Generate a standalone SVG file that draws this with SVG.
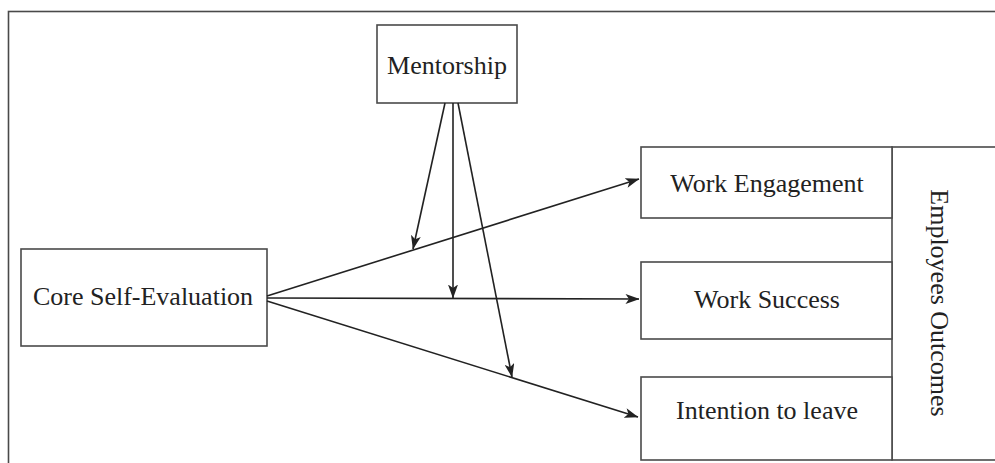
<svg xmlns="http://www.w3.org/2000/svg" width="995" height="463" viewBox="0 0 995 463">
<style>
.box{fill:#fff;stroke:#4a4a4a;stroke-width:1.6}
.frame{fill:none;stroke:#4a4a4a;stroke-width:1.6}
.lbl{font-family:"Liberation Serif","Times New Roman",serif;font-size:26px;fill:#222;text-anchor:middle}
.conn{stroke:#222;stroke-width:1.6;fill:none;marker-end:url(#ah)}
</style>
<defs>
<marker id="ah" viewBox="0 0 14 10" refX="13.5" refY="5" markerWidth="14" markerHeight="10" markerUnits="userSpaceOnUse" orient="auto">
<path d="M0,0 L14,5 L0,10 L3.5,5 z" fill="#222"/>
</marker>
</defs>
<rect class="frame" x="8.5" y="11.5" width="1000" height="500"/>
<g id="mentorship">
<rect class="box" x="377" y="25" width="140" height="78"/>
<text class="lbl" x="447" y="74">Mentorship</text>
</g>
<g id="cse">
<rect class="box" x="21" y="249" width="246" height="97"/>
<text class="lbl" x="143" y="305">Core Self-Evaluation</text>
</g>
<g id="outcomes">
<rect class="box" x="892" y="147" width="120" height="313"/>
<text class="lbl" transform="translate(931,303) rotate(90)">Employees Outcomes</text>
</g>
<g id="we">
<rect class="box" x="641" y="147" width="251" height="71"/>
<text class="lbl" x="767" y="192">Work Engagement</text>
</g>
<g id="ws">
<rect class="box" x="641" y="262" width="251" height="77"/>
<text class="lbl" x="767" y="308">Work Success</text>
</g>
<g id="il">
<rect class="box" x="641" y="377" width="251" height="83"/>
<text class="lbl" x="767" y="419">Intention to leave</text>
</g>
<g id="connectors">
<line class="conn" x1="267" y1="296" x2="639" y2="179"/>
<line class="conn" x1="267" y1="298" x2="639" y2="299"/>
<line class="conn" x1="267" y1="301" x2="638" y2="417"/>
<line class="conn" x1="445" y1="103" x2="413" y2="249"/>
<line class="conn" x1="453" y1="103" x2="453" y2="298"/>
<line class="conn" x1="458" y1="103" x2="512" y2="377"/>
</g>
</svg>
